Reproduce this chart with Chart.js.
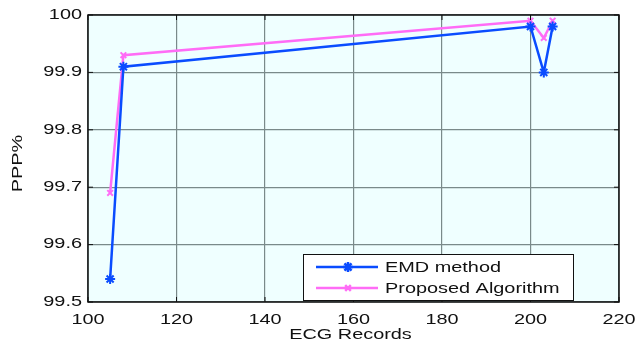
<!DOCTYPE html>
<html>
<head>
<meta charset="utf-8">
<script src="https://cdn.jsdelivr.net/npm/chart.js@4.4.1/dist/chart.umd.min.js"></script>
<style>
  html, body { margin: 0; padding: 0; background: #fff; }
  #wrap { width: 637px; height: 346px; }
</style>
</head>
<body>
<div id="wrap"><canvas id="c" width="637" height="346"></canvas></div>
<script>
// data
const records = [105, 108, 200, 203, 205];
const emdValues = [99.54, 99.91, 99.98, 99.90, 99.98];
const proposedValues = [99.69, 99.93, 99.99, 99.96, 99.99];
const xTicks = [100, 120, 140, 160, 180, 200, 220];
const yTickLabels = ["99.5", "99.6", "99.7", "99.8", "99.9", "100"];

const fontFam = "'Liberation Sans', Arial, sans-serif";
const stretch = 1.42; // the source figure's text is wide

function wideText(ctx, txt, x, y, align, size, rot) {
  ctx.save();
  ctx.translate(x, y);
  if (rot) ctx.rotate(rot);
  ctx.scale(stretch, 1);
  ctx.font = size + "px " + fontFam;
  ctx.textAlign = align;
  ctx.textBaseline = "middle";
  ctx.fillStyle = "#111";
  ctx.fillText(txt, 0, 0);
  ctx.restore();
}

// plot background, box, ticks, labels and legend drawn matlab style
const matlabBox = {
  id: "matlabBox",
  beforeDraw(chart) {
    const { ctx, chartArea: a } = chart;
    ctx.save();
    ctx.fillStyle = "#efffff";
    ctx.fillRect(a.left, a.top, a.right - a.left, a.bottom - a.top);
    ctx.restore();
  },
  afterDraw(chart) {
    const { ctx, chartArea: a } = chart;
    const xs = chart.scales.x, ys = chart.scales.y;
    ctx.save();
    ctx.strokeStyle = "#111";
    ctx.lineWidth = 1.5;
    ctx.strokeRect(a.left, a.top, a.right - a.left, a.bottom - a.top);

    // inner tick marks + labels
    ctx.lineWidth = 1;
    xTicks.forEach(v => {
      const px = xs.getPixelForValue(v);
      ctx.beginPath();
      ctx.moveTo(px, a.bottom); ctx.lineTo(px, a.bottom - 5);
      ctx.moveTo(px, a.top); ctx.lineTo(px, a.top + 5);
      ctx.stroke();
      wideText(ctx, String(v), px, a.bottom + 18, "center", 14);
    });
    yTickLabels.forEach(t => {
      const py = ys.getPixelForValue(parseFloat(t));
      ctx.beginPath();
      ctx.moveTo(a.left, py); ctx.lineTo(a.left + 5, py);
      ctx.moveTo(a.right, py); ctx.lineTo(a.right - 5, py);
      ctx.stroke();
      wideText(ctx, t, a.left - 6, py, "right", 14);
    });
    wideText(ctx, "ECG Records", (a.left + a.right) / 2 - 3, 335, "center", 14);
    wideText(ctx, "PPP%", 18, (a.top + a.bottom) / 2 + 5, "center", 14, -Math.PI / 2);

    // legend box
    const lx = 303, ly = 254, lw = 270, lh = 46;
    ctx.fillStyle = "#fff";
    ctx.fillRect(lx, ly, lw, lh);
    ctx.strokeStyle = "#111";
    ctx.lineWidth = 1;
    ctx.strokeRect(lx + 0.5, ly + 0.5, lw, lh);
    chart.data.datasets.forEach((ds, i) => {
      const y = ly + 13 + i * 21;
      ctx.strokeStyle = ds.borderColor;
      ctx.fillStyle = ds.borderColor;
      ctx.lineWidth = 2.5;
      ctx.beginPath();
      ctx.moveTo(lx + 13, y);
      ctx.lineTo(lx + 75, y);
      ctx.stroke();
      Chart.helpers.drawPoint(ctx, {
        pointStyle: ds.pointStyle, radius: ds.pointRadius,
        borderWidth: ds.pointBorderWidth, rotation: 0
      }, lx + 45, y);
      wideText(ctx, ds.label, lx + 82, y + 1, "left", 14);
    });
    ctx.restore();
  }
};

new Chart(document.getElementById("c"), {
  type: "line",
  data: {
    datasets: [
      {
        label: "EMD method",
        data: records.map((r, i) => ({ x: r, y: emdValues[i] })),
        borderColor: "#0a4cff",
        backgroundColor: "#0a4cff",
        borderWidth: 2.5,
        pointStyle: "star",
        pointRadius: 5,
        pointBorderWidth: 2,
        pointBorderColor: "#0a4cff",
        tension: 0
      },
      {
        label: "Proposed Algorithm",
        data: records.map((r, i) => ({ x: r, y: proposedValues[i] })),
        borderColor: "#ff6cf6",
        backgroundColor: "#ff6cf6",
        borderWidth: 2.5,
        pointStyle: "crossRot",
        pointRadius: 4,
        pointBorderWidth: 2,
        pointBorderColor: "#ff6cf6",
        tension: 0
      }
    ]
  },
  options: {
    responsive: false,
    animation: false,
    layout: { padding: { top: 15, right: 18, left: 0, bottom: 0 } },
    plugins: { legend: { display: false }, tooltip: { enabled: false } },
    scales: {
      x: {
        type: "linear",
        min: 100, max: 220,
        afterBuildTicks: (s) => { s.ticks = xTicks.map(v => ({ value: v })); },
        afterFit: (s) => { s.height = 44; },
        grid: { color: "#7a8a8a", lineWidth: 1.2, borderDash: [1, 2], drawTicks: false },
        border: { display: false },
        ticks: { display: false }
      },
      y: {
        min: 99.5, max: 100,
        afterBuildTicks: (s) => { s.ticks = yTickLabels.map(t => ({ value: parseFloat(t) })); },
        afterFit: (s) => { s.width = 88; },
        grid: { color: "#7a8a8a", lineWidth: 1.2, borderDash: [1, 2], drawTicks: false },
        border: { display: false },
        ticks: { display: false }
      }
    }
  },
  plugins: [matlabBox]
});
</script>
</body>
</html>
